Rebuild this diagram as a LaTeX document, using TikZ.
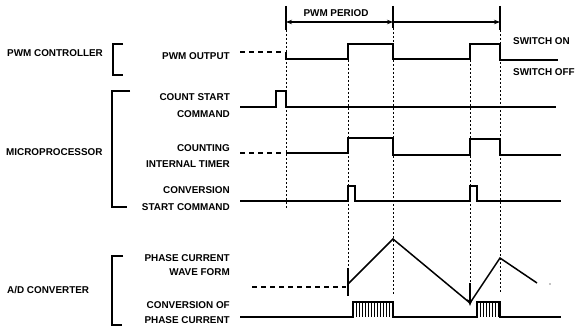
\documentclass[tikz,border=0pt]{standalone}
\usepackage{fontspec}
\setmainfont{Liberation Sans}
\usetikzlibrary{arrows.meta}
\begin{document}
\begin{tikzpicture}[x=1pt,y=-1pt,
  lbl/.style={font=\bfseries\fontsize{9.9}{11}\selectfont, inner sep=0pt},
  sig/.style={line width=1.5pt, line join=miter},
  guide/.style={line width=0.6pt, dash pattern=on 2pt off 2pt},
  lead/.style={line width=1.1pt, dash pattern=on 5pt off 4pt},
  brk/.style={line width=1.1pt},
  tick/.style={line width=1.1pt}]
\useasboundingbox (0,0) rectangle (575,326);

% ---- left group labels and brackets
\node[lbl, anchor=west] (gpwm) at (7,53) {PWM CONTROLLER};
\node[lbl, anchor=west] (gmp) at (6,152) {MICROPROCESSOR};
\node[lbl, anchor=west] (gad) at (7,290) {A/D CONVERTER};
\draw[brk] (123,44) -- (113,44) -- (113,75) -- (123,75);
\draw[brk] (130,91) -- (112,91) -- (112,207) -- (127,207);
\draw[brk] (123,256) -- (112,256) -- (112,325) -- (122,325);

% ---- signal labels
\node[lbl, anchor=east] (lpwm) at (230,56) {PWM OUTPUT};
\node[lbl, anchor=east] (lcs1) at (230,97) {COUNT START};
\node[lbl, anchor=east] (lcs2) at (230,114) {COMMAND};
\node[lbl, anchor=east] (lct1) at (230,148) {COUNTING};
\node[lbl, anchor=east] (lct2) at (230,164) {INTERNAL TIMER};
\node[lbl, anchor=east] (lcv1) at (230,190) {CONVERSION};
\node[lbl, anchor=east] (lcv2) at (230,207) {START COMMAND};
\node[lbl, anchor=east] (lph1) at (230,258) {PHASE CURRENT};
\node[lbl, anchor=east] (lph2) at (230,272) {WAVE FORM};
\node[lbl, anchor=east] (lcp1) at (230,305) {CONVERSION OF};
\node[lbl, anchor=east] (lcp2) at (230,320) {PHASE CURRENT};
\node[lbl, anchor=west] (son) at (513,41) {SWITCH ON};
\node[lbl, anchor=west] (soff) at (513,72) {SWITCH OFF};
\node[lbl] (period) at (336,13) {PWM PERIOD};

% ---- period markers
\draw[tick] (286,6) -- (286,30);
\draw[tick] (393,6) -- (393,28);
\draw[tick] (500,6) -- (500,30);
\draw[line width=1.1pt, {Stealth[length=6pt,width=4.5pt]}-{Stealth[length=6pt,width=4.5pt]}] (286,22) -- (393,22);
\draw[line width=1.1pt, -{Stealth[length=6pt,width=4.5pt]}] (393,22) -- (500,22);

% ---- vertical guide lines
\draw[guide] (286,30) -- (286,208);
\draw[guide] (348,44) -- (348,268);
\draw[guide] (393,28) -- (393,295);
\draw[guide] (470,44) -- (470,283);
\draw[guide] (500,30) -- (500,293);

% ---- PWM output
\draw[lead] (240,52) -- (284,52);
\draw[sig] (286,52) -- (286,59) -- (348,59) -- (348,44) -- (393,44) -- (393,59)
  -- (470,59) -- (470,44) -- (500,44) -- (500,60) -- (558,60);

% ---- count start command
\draw[sig] (240,107) -- (276,107) -- (276,91) -- (286,91) -- (286,107) -- (556,107);

% ---- counting internal timer
\draw[lead] (240,153) -- (284,153);
\draw[sig] (286,153) -- (348,153) -- (348,138) -- (393,138) -- (393,155)
  -- (470,155) -- (470,139) -- (500,139) -- (500,155) -- (561,155);

% ---- conversion start command
\draw[sig] (240,201) -- (348,201) -- (348,186) -- (355,186) -- (355,201)
  -- (470,201) -- (470,186) -- (477,186) -- (477,201) -- (561,201);

% ---- phase current wave form
\draw[lead] (252,287) -- (346,287);
\draw[line width=2pt] (348,268) -- (348,296);
\draw[sig] (348,284) -- (393,239) -- (470,303) -- (500,258) -- (537,283);
\draw[line width=1.8pt, -{Stealth[length=7pt,width=5.5pt]}] (470,283) -- (470,306);
\fill (550,284) circle (0.7pt);

% ---- conversion of phase current
\draw[sig] (240,317) -- (353,317) -- (353,302) -- (393,302) -- (393,317)
  -- (477,317) -- (477,302) -- (500,302) -- (500,317) -- (561,317);
\foreach \x in {356,359,...,391} \draw[line width=0.9pt] (\x,303) -- (\x,317);
\foreach \x in {480,483,...,498} \draw[line width=0.9pt] (\x,303) -- (\x,317);
\end{tikzpicture}
\end{document}
